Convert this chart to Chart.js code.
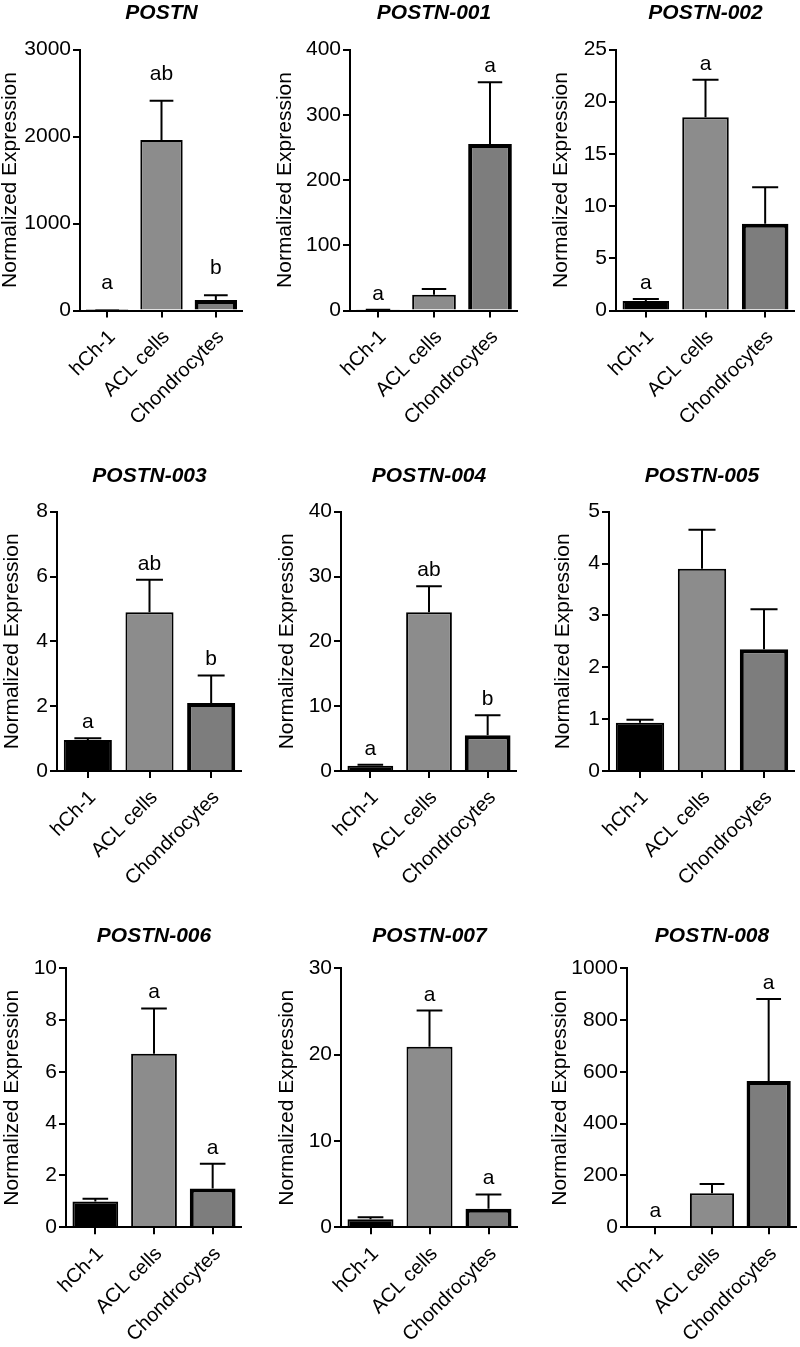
<!DOCTYPE html>
<html>
<head>
<meta charset="utf-8">
<script src="https://cdn.jsdelivr.net/npm/chart.js@4"></script>
<style>
  body { margin: 0; background: #fff; }
  #wrap { position: relative; width: 800px; height: 1347px; overflow: hidden; background: #fff; }
  #wrap canvas { position: absolute; }
</style>
</head>
<body>
<div id="wrap"></div>
<script>
// POSTN isoform expression, mean + SD, with significance letters
const groups = ['hCh-1', 'ACL cells', 'Chondrocytes'];
const titles = ['POSTN', 'POSTN-001', 'POSTN-002', 'POSTN-003', 'POSTN-004', 'POSTN-005', 'POSTN-006', 'POSTN-007', 'POSTN-008'];

const means = [
  [1, 1960, 120],
  [1, 24, 255],
  [0.92, 18.5, 8.3],
  [0.96, 4.9, 2.1],
  [0.8, 24.5, 5.5],
  [0.93, 3.9, 2.35],
  [1.0, 6.7, 1.5],
  [0.93, 20.9, 2.15],
  [1, 131, 565],
];
const errors = [
  [0.2, 450, 55],
  [0.1, 9, 95],
  [0.18, 3.6, 3.5],
  [0.05, 1.0, 0.85],
  [0.15, 4, 3.1],
  [0.06, 0.75, 0.77],
  [0.1, 1.75, 0.95],
  [0.22, 4.2, 1.65],
  [0.3, 36, 316],
];
const letters = [
  ['a', 'ab', 'b'],
  ['a', '', 'a'],
  ['a', 'a', ''],
  ['a', 'ab', 'b'],
  ['a', 'ab', 'b'],
  ['', '', ''],
  ['', 'a', 'a'],
  ['', 'a', 'a'],
  ['a', '', 'a'],
];
const yMax = [3000, 400, 25, 8, 40, 5, 10, 30, 1000];
const yStep = [1000, 100, 5, 2, 10, 1, 2, 10, 200];

// panel placement on the page
const canvasLeft = [0, 275, 551, 2, 277, 553, 2, 277, 550];
const axisX = [80, 350, 616, 57, 341, 609, 66, 341, 627];
const rightX = [243, 518, 795, 242, 517, 795, 242, 518, 797];
const rowTop = [0, 463, 923];
const rowPlotTop = [49.5, 511.7, 968.3];
const rowZero = [310.5, 771, 1227.3];
const letterGap = [21, 10, 10, 10, 10, 10, 10, 10, 10];
const xAxisHeight = 118;
const fontFamily = '"Liberation Sans", Arial, Helvetica, sans-serif';

Chart.defaults.font.family = fontFamily;
Chart.defaults.color = '#000';

const errorBars = {
  id: 'errorBars',
  afterDatasetsDraw(chart, args, opts) {
    const { ctx } = chart;
    const y = chart.scales.y;
    const meta = chart.getDatasetMeta(0);
    ctx.save();
    ctx.strokeStyle = '#000';
    ctx.lineWidth = 2;
    ctx.fillStyle = '#000';
    ctx.font = '21px ' + fontFamily;
    ctx.textAlign = 'center';
    ctx.textBaseline = 'alphabetic';
    meta.data.forEach((bar, i) => {
      const base = y.getPixelForValue(opts.means[i]);
      const top = y.getPixelForValue(opts.means[i] + opts.errors[i]);
      const half = bar.width * 0.28;
      ctx.beginPath();
      ctx.moveTo(bar.x, base);
      ctx.lineTo(bar.x, top);
      ctx.moveTo(bar.x - half, top);
      ctx.lineTo(bar.x + half, top);
      ctx.stroke();
      if (opts.letters[i]) ctx.fillText(opts.letters[i], bar.x, top - opts.gap);
    });
    ctx.restore();
  }
};

const wrap = document.getElementById('wrap');

titles.forEach((title, k) => {
  const row = Math.floor(k / 3);
  const left = canvasLeft[k];
  const top = rowTop[row];
  const width = rightX[k] - left;
  const height = Math.min(Math.round(rowZero[row] - top + xAxisHeight), 1347 - top);
  const yWidth = axisX[k] - left;
  const titleLine = 21 * 1.2;
  const padTop = 13.5 - titleLine / 2;
  const padBottom = rowPlotTop[row] - top - padTop - titleLine;
  const xHeight = height - (rowZero[row] - top);

  const canvas = document.createElement('canvas');
  canvas.width = width;
  canvas.height = height;
  canvas.style.left = left + 'px';
  canvas.style.top = top + 'px';
  canvas.style.width = width + 'px';
  canvas.style.height = height + 'px';
  wrap.appendChild(canvas);

  new Chart(canvas, {
    type: 'bar',
    data: {
      labels: groups,
      datasets: [{
        data: means[k],
        backgroundColor: ['#000000', '#8c8c8c', '#7d7d7d'],
        borderColor: '#000',
        borderWidth: [2, 2, 4],
        barPercentage: 0.78,
        categoryPercentage: 1,
      }]
    },
    options: {
      responsive: false,
      animation: false,
      devicePixelRatio: 1,
      layout: { padding: 0 },
      plugins: {
        legend: { display: false },
        tooltip: { enabled: false },
        title: {
          display: true,
          text: title,
          fullSize: false,
          font: { size: 21, weight: 'bold', style: 'italic', lineHeight: 1.2 },
          padding: { top: padTop, bottom: padBottom },
        },
        errorBars: { means: means[k], errors: errors[k], letters: letters[k], gap: letterGap[k] },
      },
      scales: {
        x: {
          grid: { display: true, drawOnChartArea: false, offset: false, color: '#000', lineWidth: 2, tickLength: 7 },
          border: { color: '#000', width: 2, z: 1 },
          ticks: { font: { size: 20 }, minRotation: 45, maxRotation: 45, autoSkip: false, padding: 8, labelOffset: 5 },
          afterFit(scale) { scale.height = xHeight; },
        },
        y: {
          min: 0,
          max: yMax[k],
          ticks: { stepSize: yStep[k], font: { size: 21 }, padding: 2, callback: (v) => String(v) },
          grid: { drawOnChartArea: false, color: '#000', lineWidth: 2, tickLength: 7 },
          border: { color: '#000', width: 2, z: 1 },
          title: { display: true, text: 'Normalized Expression', font: { size: 21, lineHeight: 1 }, padding: 0 },
          afterFit(scale) { scale.width = yWidth; },
        }
      }
    },
    plugins: [errorBars]
  });
});
</script>
</body>
</html>
